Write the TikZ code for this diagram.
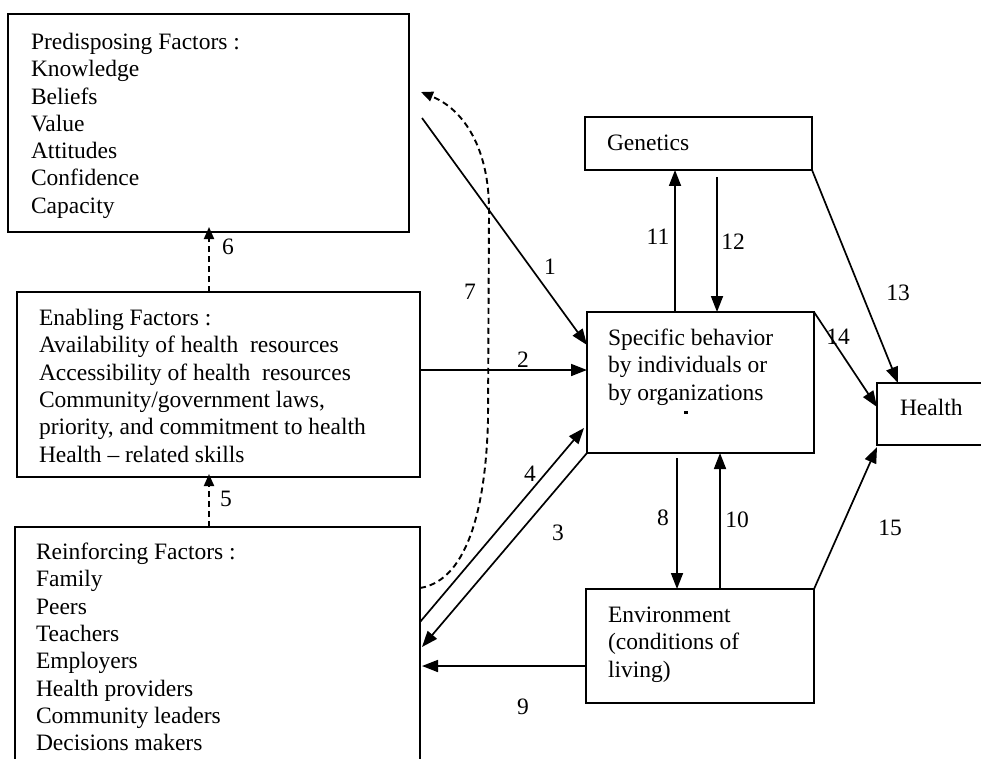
\documentclass[tikz,border=0pt]{standalone}
\usepackage{fontspec}
\setmainfont{Liberation Serif}
\usetikzlibrary{arrows.meta,calc}
\begin{document}
\begin{tikzpicture}[x=1pt,y=-1pt,
  box/.style={draw, line width=1.7pt, inner sep=0pt, outer sep=0pt, anchor=north west, rectangle},
  txt/.style={inner sep=0pt, outer sep=0pt, anchor=north west, align=left, font=\fontsize{23.5}{27.3}\selectfont},
  lbl/.style={inner sep=0pt, font=\fontsize{23.5}{27.3}\selectfont},
  arr/.style={line width=1.7pt, -{Triangle[length=16pt,width=12pt]}},
  darr/.style={line width=1.9pt, dash pattern=on 6pt off 4pt, -{Triangle[length=12pt,width=10pt]}},
]
\useasboundingbox (0,0) rectangle (981,759);
\clip (0,0) rectangle (981,759);
\fill[white] (0,0) rectangle (981,759);

% boxes
\node[box, minimum width=401pt, minimum height=218pt] (pre) at (8,14) {};
\node[box, minimum width=403pt, minimum height=185pt] (ena) at (17,292) {};
\node[box, minimum width=405pt, minimum height=260pt] (rei) at (15,527) {};
\node[box, minimum width=227pt, minimum height=53pt] (gen) at (585,117) {};
\node[box, minimum width=227pt, minimum height=141pt] (spec) at (587,312) {};
\node[box, minimum width=130pt, minimum height=62pt] (health) at (877,383) {};
\node[box, minimum width=228pt, minimum height=114pt] (env) at (586,589) {};

% texts
\node[txt] (pretxt) at (31,32.5) {\rule{0pt}{17pt}Predisposing Factors :\\Knowledge\\Beliefs\\Value\\Attitudes\\Confidence\\Capacity};
\node[txt] (enatxt) at (39,308.5) {\rule{0pt}{17pt}Enabling Factors :\\Availability of health~ resources\\Accessibility of health~ resources\\Community/government laws,\\priority, and commitment to health\\Health -- related skills};
\node[txt] (reitxt) at (36,542.5) {\rule{0pt}{17pt}Reinforcing Factors :\\Family\\Peers\\Teachers\\Employers\\Health providers\\Community leaders\\Decisions makers};
\node[txt] (gentxt) at (607,133.5) {\rule{0pt}{17pt}Genetics};
\node[txt] (spectxt) at (608,328.5) {\rule{0pt}{17pt}Specific behavior\\by individuals or\\by organizations};
\node[txt] (healthtxt) at (900,398.5) {\rule{0pt}{17pt}Health};
\node[txt] (envtxt) at (608,605.5) {\rule{0pt}{17pt}Environment\\(conditions of\\living)};
\fill (684,411) rectangle (688,413.5);

% connectors
\draw[arr] ($(pre.north east)+(13,104)$) -- ($(spec.north west)+(0,33)$);
\draw[arr] ($(ena.north east)+(0,78)$) -- ($(spec.north west)+(0,58)$);
\draw[arr] (spec.south west) -- ($(rei.north east)+(2,120)$);
\draw[arr] ($(rei.north east)+(0,95)$) -- ($(spec.north west)+(-3,116)$);
\draw[darr] ($(rei.north west)+(194,0)$) -- ($(ena.south west)+(192,-3)$);
\draw[darr] ($(ena.north west)+(192,0)$) -- ($(pre.south west)+(201,-5)$);
\draw[darr] ($(rei.north east)+(0,61)$) .. controls (470,580) and (486,500) .. (488,420)
   -- (489,210) .. controls (489,150) and (465,110) .. ($(pre.north east)+(12,78)$);
\draw[arr] ($(spec.south west)+(90,5)$) -- ($(env.north west)+(91,0)$);
\draw[arr] ($(env.north west)+(0,77)$) -- ($(rei.north east)+(2,139)$);
\draw[arr] ($(env.north west)+(134,0)$) -- ($(spec.south west)+(133,0)$);
\draw[arr] ($(spec.north west)+(88,0)$) -- ($(gen.south west)+(90,0)$);
\draw[arr] ($(gen.south west)+(132,7)$) -- ($(spec.north west)+(130,0)$);
\draw[arr] (gen.south east) -- ($(health.north west)+(21,0)$);
\draw[arr] (spec.north east) -- ($(health.north west)+(0,24)$);
\draw[arr] (env.north east) -- ($(health.south west)+(0,2)$);

% labels
\node[lbl] (l1) at (550,267) {1};
\node[lbl] (l2) at (523,360) {2};
\node[lbl] (l3) at (558,533) {3};
\node[lbl] (l4) at (530,474) {4};
\node[lbl] (l5) at (226,499) {5};
\node[lbl] (l6) at (228,247) {6};
\node[lbl] (l7) at (470,292) {7};
\node[lbl] (l8) at (663,518) {8};
\node[lbl] (l9) at (523,707) {9};
\node[lbl] (l10) at (737,520) {10};
\node[lbl] (l11) at (658,237) {11};
\node[lbl] (l12) at (733,242) {12};
\node[lbl] (l13) at (898,293) {13};
\node[lbl] (l14) at (838,337) {14};
\node[lbl] (l15) at (890,528) {15};
\end{tikzpicture}
\end{document}
